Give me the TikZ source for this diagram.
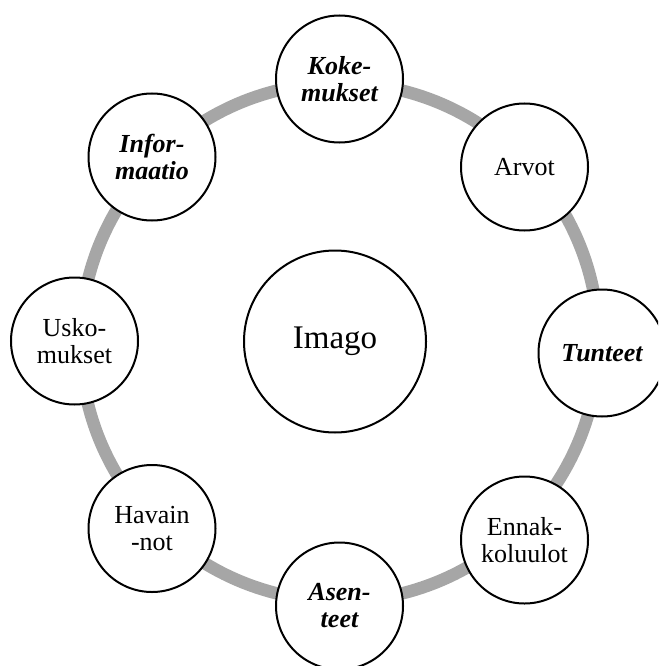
\documentclass[tikz,border=0pt]{standalone}
\usepackage{fontspec}
\setmainfont{Liberation Serif}
\definecolor{ringgray}{HTML}{A6A6A6}
\begin{document}
\begin{tikzpicture}[x=1pt,y=-1pt,
  bub/.style={circle,draw=black,line width=2pt,fill=white,minimum size=127pt,inner sep=0pt,align=center,font=\fontsize{26}{27}\selectfont},
  em/.style={font=\fontsize{26}{27}\selectfont\bfseries\itshape},
  big/.style={circle,draw=black,line width=2pt,fill=white,minimum size=182pt,inner sep=0pt,font=\fontsize{33}{36}\selectfont},
  ring/.style={draw=ringgray,line width=12.5pt}]
\useasboundingbox (0,0) rectangle (658,666);
\clip (0,0) rectangle (658,666);
\coordinate (c) at (339.5,342);
\draw[ring] (c) circle (259pt);
\node[bub,em] (koke) at (339.5,79) {Koke-\\mukset};
\node[bub,em] (infor) at (152,157) {Infor-\\maatio};
\node[bub] (arvot) at (524.5,167) {Arvot};
\node[bub] (usko) at (74.5,341) {Usko-\\mukset};
\node[big] (imago) at (335,341.5) {Imago};
\node[bub,em] (tunteet) at (602,353) {Tunteet};
\node[bub] (havain) at (152,528.5) {Havain\\-not};
\node[bub] (ennak) at (524.5,540) {Ennak-\\koluulot};
\node[bub,em] (asen) at (339.5,606) {Asen-\\teet};
\end{tikzpicture}
\end{document}
